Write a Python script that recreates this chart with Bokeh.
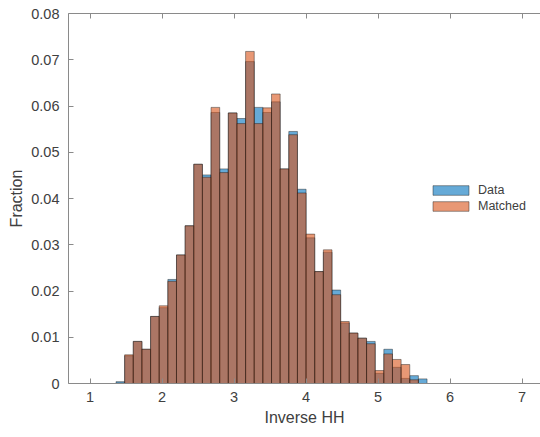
import numpy as np
from bokeh.plotting import figure
from bokeh.models import (Range1d, FixedTicker, LinearAxis, CustomJSTickFormatter,
                          Legend, LegendItem, ColumnDataSource, CustomLabelingPolicy)
from bokeh.embed import file_html
from bokeh.resources import INLINE

# ---- data -----------------------------------------------------------------
bin_edges = np.linspace(1.0, 7.0, 51)          # 50 bins, BinLimits [1, 7]

data_fraction = [
    0, 0, 0, 0.0004, 0.0060, 0.0091, 0.0074, 0.0145, 0.0164, 0.0225,
    0.0278, 0.0341, 0.0474, 0.0451, 0.0586, 0.0464, 0.0585, 0.0573, 0.0696, 0.0597,
    0.0586, 0.0609, 0.0464, 0.0545, 0.0420, 0.0315, 0.0242, 0.0284, 0.0202, 0.0131,
    0.0109, 0.0098, 0.0091, 0.0022, 0.0074, 0.0035, 0.0011, 0.0017, 0.0010, 0,
    0, 0, 0, 0, 0, 0, 0, 0, 0, 0,
]
matched_fraction = [
    0, 0, 0, 0.0001, 0.0062, 0.0091, 0.0074, 0.0145, 0.0168, 0.0221,
    0.0278, 0.0341, 0.0474, 0.0446, 0.0597, 0.0456, 0.0585, 0.0562, 0.0718, 0.0562,
    0.0596, 0.0626, 0.0464, 0.0538, 0.0412, 0.0323, 0.0242, 0.0289, 0.0192, 0.0134,
    0.0109, 0.0098, 0.0086, 0.0028, 0.0064, 0.0052, 0.0041, 0.0008, 0, 0,
    0, 0, 0, 0, 0, 0, 0, 0, 0, 0,
]

x_ticks = [1, 2, 3, 4, 5, 6, 7]
y_ticks = [0, 0.01, 0.02, 0.03, 0.04, 0.05, 0.06, 0.07, 0.08]
series_names = ["Data", "Matched"]
x_label = "Inverse HH"
y_label = "Fraction"

# ---- figure ---------------------------------------------------------------
FONT = "Liberation Sans"
TEXT = "#404040"
AXIS = "#8a8a8a"

p = figure(width=540, height=437, output_backend="svg", toolbar_location=None,
           x_range=Range1d(0.7, 7.256), y_range=Range1d(0, 0.08),
           x_axis_location=None, y_axis_location=None,
           min_border_left=68, min_border_right=0, min_border_top=12,
           min_border_bottom=54)
p.outline_line_color = None
p.grid.visible = False
p.background_fill_color = "white"
p.border_fill_color = "white"

left = bin_edges[:-1]
right = bin_edges[1:]
src_d = ColumnDataSource(dict(left=left, right=right, top=data_fraction))
src_m = ColumnDataSource(dict(left=left, right=right, top=matched_fraction))

r_d = p.quad(left="left", right="right", top="top", bottom=0, source=src_d,
             fill_color="#0072BD", fill_alpha=0.6,
             line_color="#1a1a1a", line_alpha=0.55, line_width=0.8)
r_m = p.quad(left="left", right="right", top="top", bottom=0, source=src_m,
             fill_color="#D95319", fill_alpha=0.6,
             line_color="#1a1a1a", line_alpha=0.55, line_width=0.8)

# axes
xb = LinearAxis(axis_label=x_label, ticker=FixedTicker(ticks=x_ticks))
yl = LinearAxis(axis_label=y_label, ticker=FixedTicker(ticks=y_ticks),
                formatter=CustomJSTickFormatter(
                    code="return tick === 0 ? '0' : tick.toFixed(2);"))
xt = LinearAxis(ticker=FixedTicker(ticks=x_ticks),
                major_label_policy=CustomLabelingPolicy(code="""
                    const all = [...indices];
                    for (const i of all) indices.unset(i);
                    return indices;
                """))

for ax in (xb, yl, xt):
    ax.axis_line_color = AXIS
    ax.axis_line_width = 1
    ax.major_tick_line_color = AXIS
    ax.major_tick_in = 5
    ax.major_tick_out = 0
    ax.minor_tick_line_color = None
    ax.major_label_text_font = FONT
    ax.major_label_text_font_size = "14.5px"
    ax.major_label_text_color = TEXT
    ax.axis_label_text_font = FONT
    ax.axis_label_text_font_size = "16px"
    ax.axis_label_text_font_style = "normal"
    ax.axis_label_text_color = TEXT

xb.major_label_standoff = 8
xb.axis_label_standoff = 4
yl.major_label_standoff = 9
yl.axis_label_standoff = 3
xt.major_label_standoff = 0

p.add_layout(xb, "below")
p.add_layout(yl, "left")
p.add_layout(xt, "above")

legend = Legend(items=[LegendItem(label=series_names[0], renderers=[r_d]),
                       LegendItem(label=series_names[1], renderers=[r_m])],
                location=(360, 170))
legend.padding = 0
legend.margin = 0
legend.border_line_color = None
legend.background_fill_alpha = 0
legend.glyph_width = 45
legend.glyph_height = 12
legend.label_height = 12
legend.label_standoff = 5
legend.spacing = 2
legend.label_text_font = FONT
legend.label_text_font_size = "12.5px"
legend.label_text_color = TEXT
p.add_layout(legend)

open("out.html", "w").write(file_html(p, INLINE))
